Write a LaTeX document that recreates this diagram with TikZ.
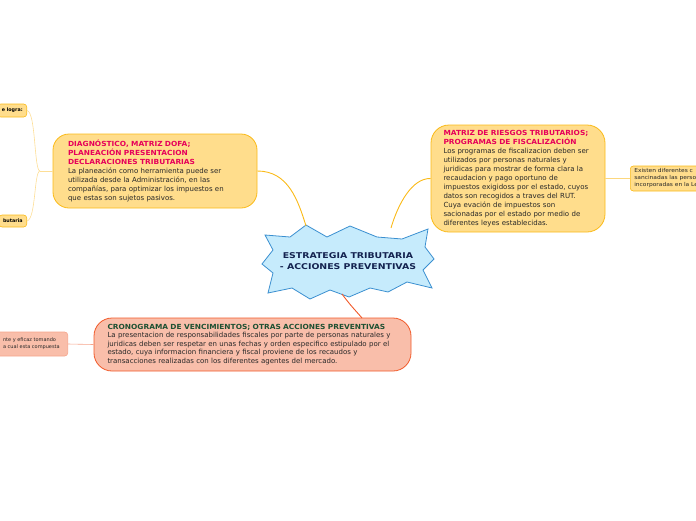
\documentclass[tikz,border=0pt]{standalone}
\usepackage{fontspec}
\setmainfont{DejaVu Sans}
\newfontfamily\titulofont[FakeStretch=1.06]{DejaVu Sans}
\newfontfamily\centrofont[FakeStretch=1.17]{DejaVu Sans}
\newfontfamily\hojafont[FakeStretch=1.1]{DejaVu Sans}

\definecolor{amarillo}{RGB}{255,221,140}
\definecolor{oro}{RGB}{250,186,24}
\definecolor{oroclaro}{RGB}{253,222,150}
\definecolor{salmon}{RGB}{249,190,170}
\definecolor{rojizo}{RGB}{241,90,42}
\definecolor{salmonclaro}{RGB}{246,165,140}
\definecolor{celeste}{RGB}{198,235,252}
\definecolor{azul}{RGB}{58,143,208}
\definecolor{magenta}{RGB}{230,0,90}
\definecolor{verde}{RGB}{30,80,50}
\definecolor{cuerpo}{RGB}{40,40,40}
\definecolor{marino}{RGB}{20,35,80}

\newcommand{\titulo}[2]{\textcolor{#1}{\titulofont\bfseries #2}}

\tikzset{
  ramayellow/.style={draw=oro, fill=amarillo, line width=0.8pt, rounded corners=16pt,
    align=left, inner xsep=15pt, inner ysep=4pt, text=cuerpo,
    font=\fontsize{7}{9}\selectfont},
  ramasalmon/.style={draw=rojizo, fill=salmon, line width=0.8pt, rounded corners=18pt,
    align=left, inner xsep=13.5pt, inner ysep=4pt, text=cuerpo,
    font=\fontsize{7}{8.4}\selectfont},
  hojayellow/.style={draw=oro, fill=amarillo, line width=0.6pt, rounded corners=3pt,
    inner xsep=4pt, inner ysep=2pt, text=black, font=\fontsize{4.8}{6}\bfseries},
  hojasalmon/.style={draw=salmonclaro, fill=salmon, line width=0.6pt, rounded corners=3pt,
    align=left, inner xsep=8pt, inner ysep=2pt, text=cuerpo, font=\fontsize{5}{7}\selectfont},
  ligayellow/.style={draw=oro, line width=0.9pt},
  ligafina/.style={draw=oroclaro, line width=0.6pt},
  ligasalmon/.style={draw=rojizo, line width=0.9pt},
}

\begin{document}
\begin{tikzpicture}[x=1pt,y=-1pt]

\useasboundingbox (0,0) rectangle (696,520);

% estrella central
\draw[fill=celeste, draw=azul, line width=0.8pt]
  (265,235) -- (290,237) -- (306,225) -- (327,237) -- (350,226) -- (377,237)
  -- (402,239) -- (428,229) -- (425,247) -- (434,259) -- (423,270) -- (432,288)
  -- (407,282) -- (388,292) -- (370,288) -- (349,297) -- (330,290) -- (310,299)
  -- (292,288) -- (268,293) -- (273,273) -- (262,264) -- (273,250) -- cycle;
\node[align=center, text=marino, font=\fontsize{8}{11}\centrofont\bfseries] (centro) at (348,261.5)
  {ESTRATEGIA TRIBUTARIA\\- ACCIONES PREVENTIVAS};

\coordinate (centroNO) at (306,226);
\coordinate (centroNE) at (391,228);
\coordinate (centroS) at (342,294);

% ramas principales
\node[ramayellow, text width=174pt, minimum height=74pt] (diag) at (155,171)
  {\titulo{magenta}{DIAGNÓSTICO, MATRIZ DOFA;}\\
   \titulo{magenta}{PLANEACIÓN PRESENTACION}\\
   \titulo{magenta}{DECLARACIONES TRIBUTARIAS}\\
   La planeación como herramienta puede ser\\
   utilizada desde la Administración, en las\\
   compañías, para optimizar los impuestos en\\
   que estas son sujetos pasivos.};

\node[ramayellow, rounded corners=18pt, inner xsep=12.5pt, text width=149pt, minimum height=107pt] (matriz) at (518,178.5)
  {\titulo{magenta}{MATRIZ DE RIESGOS TRIBUTARIOS;}\\
   \titulo{magenta}{PROGRAMAS DE FISCALIZACIÓN}\\
   Los programas de fiscalizacion deben ser\\
   utilizados por personas naturales y\\
   juridicas para mostrar de forma clara la\\
   recaudacion y pago oportuno de\\
   impuestos exigidoss por el estado, cuyos\\
   datos son recogidos a traves del RUT.\\
   Cuya evación de impuestos son\\
   sacionadas por el estado por medio de\\
   diferentes leyes establecidas.};

\node[ramasalmon, text width=290pt, minimum height=53pt] (crono) at (252.5,344.5)
  {\titulo{verde}{CRONOGRAMA DE VENCIMIENTOS; OTRAS ACCIONES PREVENTIVAS}\\
   La presentacion de responsabilidades fiscales por parte de personas naturales y\\
   juridicas deben ser respetar en unas fechas y orden especifico estipulado por el\\
   estado, cuya informacion financiera y fiscal proviene de los recaudos y\\
   transacciones realizadas con los diferentes agentes del mercado.};

\coordinate (cronoN) at (362,318);

% hojas
\node[hojayellow, anchor=east, minimum height=13pt] (logra) at (27,110.5) {e logra:};
\node[hojayellow, anchor=east, minimum height=12pt] (tribut) at (27,221) {butaria};
\node[hojasalmon, anchor=east, minimum height=24pt] (eficaz) at (68,344)
  {nte y eficaz tomando\\a cual esta compuesta};
\node[hojayellow, anchor=west, align=left, font=\fontsize{5.4}{7}\hojafont, text=cuerpo,
  text width=85pt, minimum height=25pt] (existen) at (630,178.5)
  {Existen diferentes c\\sancinadas las person\\incorporadas en la Ley};

\coordinate (diagfork) at (40,171);

% conectores
\draw[ligayellow] (diag.east) .. controls (288,171) and (298,200) .. (centroNO);
\draw[ligayellow] (matriz.west) .. controls (412,178) and (398,204) .. (centroNE);
\draw[ligasalmon] (centroS) .. controls (350,305) and (356,311) .. (cronoN);

\draw[ligafina] (diag.west) -- (diagfork);
\draw[ligafina] (diagfork) .. controls (34,171) and (36,112) .. (logra.east);
\draw[ligafina] (diagfork) .. controls (34,171) and (36,219) .. (tribut.east);
\draw[draw=oroclaro!80!oro, line width=0.6pt] (matriz.east) -- (existen.west);
\draw[draw=salmonclaro, line width=0.6pt] (crono.west) -- (eficaz.east);

\end{tikzpicture}
\end{document}
